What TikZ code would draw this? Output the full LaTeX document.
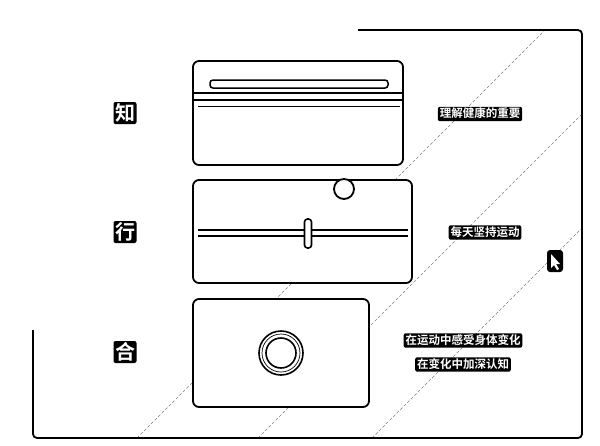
\documentclass[tikz,border=0pt]{standalone}
\usepackage{fontspec}
\newfontfamily\cjk{Noto Sans CJK SC Bold}
\usepackage{tikz}
\usetikzlibrary{positioning}

\begin{document}
\begin{tikzpicture}[
    x=1pt, y=-1pt,
    mypanel/.style={draw, rounded corners=6pt, line width=1.8pt, fill=white},
    mychar/.style={fill=black, text=white, rounded corners=2pt, inner sep=1.5pt, font=\cjk\fontsize{20}{22}\selectfont, text height=17pt, text depth=2pt},
    mytag/.style={fill=black, text=white, rounded corners=2pt, inner sep=1.8pt, font=\cjk\fontsize{11.5}{13}\selectfont, text height=9pt, text depth=1.8pt},
    mystripe/.style={densely dashed, line width=0.6pt, black!50}
]
\useasboundingbox (0,0) rectangle (600,445);

% background stripes
\draw[mystripe] (137,438) -- (545,30);
\draw[mystripe] (258,438) -- (582,114);
\draw[mystripe] (372,438) -- (582,228);

% outer frame
\draw[line width=1.8pt, rounded corners=4pt] (358,30) -- (582,30) -- (582,438) -- (33,438) -- (33,330);

% panels
\node[mypanel, minimum width=210pt, minimum height=104pt] (zhi) at (298,113) {};
\node[mypanel, minimum width=219pt, minimum height=103pt] (xing) at (302.5,231.5) {};
\node[mypanel, minimum width=176pt, minimum height=108pt] (he) at (281,353) {};

% panel 1: bar and header lines
\draw[line width=1.5pt, rounded corners=3pt] (210,80) rectangle (388,88);
\draw[line width=2.4pt] (zhi.west |- 0,93) -- (zhi.east |- 0,93);
\draw[line width=1.8pt] (zhi.west |- 0,100) -- (zhi.east |- 0,100);
\draw[line width=1pt] (198,106) -- (400,106);

% panel 2: slider
\draw[line width=1.8pt] (198,230) -- (408,230);
\draw[line width=1.8pt] (198,236) -- (408,236);
\draw[line width=1.6pt, fill=white, rounded corners=3pt] (304.5,219) rectangle (311.5,248);
\draw[line width=1.8pt, fill=white] (344,189) circle (10);

% panel 3: button
\draw[line width=1.6pt] (he.center) circle (22);
\draw[line width=0.7pt] (he.center) circle (19);
\draw[line width=1.6pt] (he.center) circle (15);

% labels
\node[mychar] (c1) at (125,113) {知};
\node[mychar] (c2) at (125,232) {行};
\node[mychar] (c3) at (125,352) {合};

\node[mytag] (t1) at (480,114) {理解健康的重要};
\node[mytag] (t2) at (485,232.5) {每天坚持运动};
\node[mytag] (t3) at (463,340.5) {在运动中感受身体变化};
\node[mytag] (t4) at (463,364.5) {在变化中加深认知};

% cursor
\fill[rounded corners=3pt] (547,250) rectangle (563,272);
\fill[white] (551,254) -- (551,268) -- (554,265) -- (557,270) -- (559,269) -- (556,264) -- (560,264) -- cycle;
\end{tikzpicture}
\end{document}
